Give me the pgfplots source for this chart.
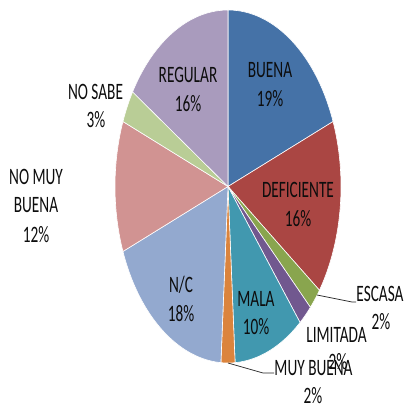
\documentclass[border=0pt]{standalone}
\usepackage{pgfplots}
\pgfplotsset{compat=1.18}
\usepackage{fontspec}
\setmainfont{Carlito}[FakeStretch=0.65]
\definecolor{cBuena}{HTML}{4572A7}
\definecolor{cDef}{HTML}{AA4643}
\definecolor{cEsc}{HTML}{89A54E}
\definecolor{cLim}{HTML}{71588F}
\definecolor{cMala}{HTML}{4198AF}
\definecolor{cMuyB}{HTML}{DB843D}
\definecolor{cNC}{HTML}{93A9CF}
\definecolor{cNoMuy}{HTML}{D19392}
\definecolor{cNoSabe}{HTML}{B9CD96}
\definecolor{cReg}{HTML}{A99BBD}
\def\cx{228}\def\cy{217.5}\def\rx{113}\def\ry{176.5}
% #1 colour, #2 cumulative percent before the slice, #3 slice percent
\newcommand\pieslice[3]{%
  \pgfmathsetmacro\angA{90-3.6*(#2+#3)}%
  \pgfmathsetmacro\angB{90-3.6*(#2)}%
  \edef\tmp{\noexpand\addplot[fill=#1, draw=white, line width=0.6bp, domain=\angA:\angB, samples=80, variable=\noexpand\t]
    ({\cx+\rx*cos(\noexpand\t)},{\cy+\ry*sin(\noexpand\t)}) -- (axis cs:\cx,\cy) -- cycle;}%
  \tmp}
\tikzset{lbl/.style={anchor=base, inner sep=0pt, text=black!95, font=\fontsize{23.5bp}{29bp}\selectfont}}
\begin{document}
\begin{tikzpicture}
\begin{axis}[
  width=408bp, height=404bp, scale only axis,
  xmin=0, xmax=408, ymin=0, ymax=404,
  hide axis, clip=false,
]
% percentages: BUENA 19, DEFICIENTE 16, ESCASA 2, LIMITADA 2, MALA 10,
% MUY BUENA 2, N/C 18, NO MUY BUENA 12, NO SABE 3, REGULAR 16
\pieslice{cBuena}{0}{19}
\pieslice{cDef}{19}{16}
\pieslice{cEsc}{35}{2}
\pieslice{cLim}{37}{2}
\pieslice{cMala}{39}{10}
\pieslice{cMuyB}{49}{2}
\pieslice{cNC}{51}{18}
\pieslice{cNoMuy}{69}{12}
\pieslice{cNoSabe}{81}{3}
\pieslice{cReg}{84}{16}
% leader lines
\draw[black!85, line width=0.7bp] (axis cs:317,109) -- (axis cs:352,102) -- (axis cs:356,102);
\draw[black!85, line width=0.7bp] (axis cs:228,41) -- (axis cs:263,31) -- (axis cs:274,31);
% labels
\node[lbl] at (axis cs:270,326) {BUENA};
\node[lbl] at (axis cs:270,297) {19\%};
\node[lbl] at (axis cs:188,321) {REGULAR};
\node[lbl] at (axis cs:188,292) {16\%};
\node[lbl] at (axis cs:298,206) {DEFICIENTE};
\node[lbl] at (axis cs:298,177) {16\%};
\node[lbl] at (axis cs:181,111) {N/C};
\node[lbl] at (axis cs:181,82) {18\%};
\node[lbl] at (axis cs:256,97) {MALA};
\node[lbl] at (axis cs:256,69) {10\%};
\node[lbl] at (axis cs:380,102) {ESCASA};
\node[lbl] at (axis cs:381,74) {2\%};
\node[lbl] at (axis cs:336.5,61) {LIMITADA};
\node[lbl] at (axis cs:338,34) {2\%};
\node[lbl] at (axis cs:313.5,29) {MUY BUENA};
\node[lbl] at (axis cs:313,1) {2\%};
\node[lbl] at (axis cs:95.5,304) {NO SABE};
\node[lbl] at (axis cs:96,276) {3\%};
\node[lbl] at (axis cs:36,219) {NO MUY};
\node[lbl] at (axis cs:36,191) {BUENA};
\node[lbl] at (axis cs:36,161) {12\%};
\end{axis}
\pgfresetboundingbox
\useasboundingbox (current axis.south west) rectangle (current axis.north east);
\end{tikzpicture}
\end{document}
